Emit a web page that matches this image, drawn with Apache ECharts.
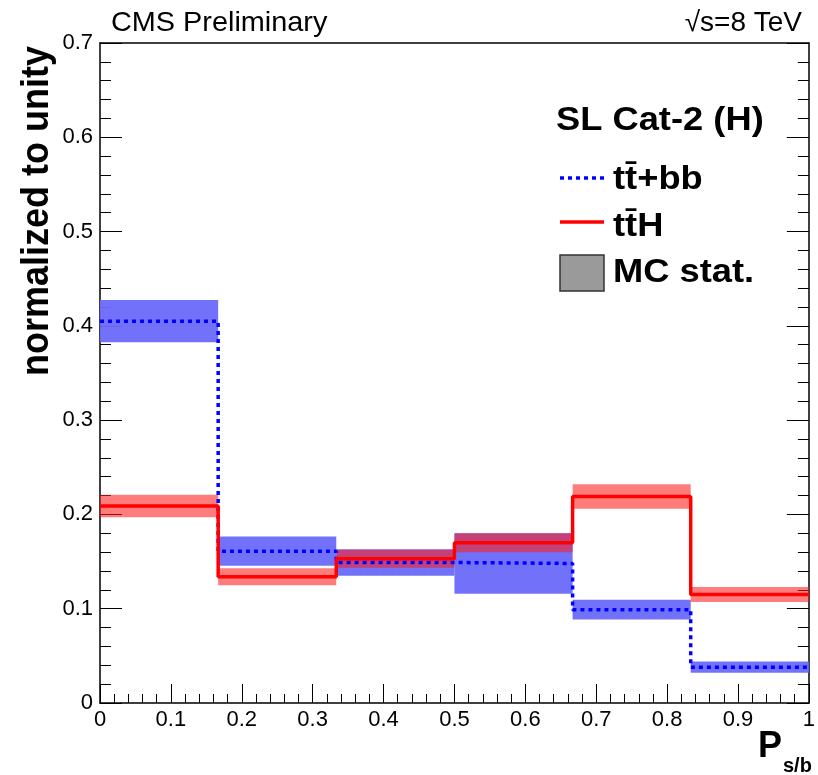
<!DOCTYPE html>
<html>
<head>
<meta charset="utf-8">
<script src="https://cdn.jsdelivr.net/npm/echarts@6/dist/echarts.min.js"></script>
<style>
  html, body { margin: 0; padding: 0; background: #fff; }
  #main { width: 818px; height: 775px; }
</style>
</head>
<body>
<div id="main"></div>
<script>
var myChart = echarts.init(document.getElementById('main'));

// bin edges of P_s/b and the two normalised templates
var binEdges = [0, 0.1667, 0.3333, 0.5, 0.6667, 0.8333, 1];
var ttbb = [0.405, 0.161, 0.149, 0.148, 0.099, 0.038];
var ttbbErr = [0.0225, 0.0155, 0.014, 0.032, 0.0105, 0.006];
var tth = [0.209, 0.134, 0.153, 0.170, 0.219, 0.115];
var tthErr = [0.012, 0.009, 0.0095, 0.010, 0.013, 0.008];

var FONT = 'Liberation Sans';

function stepData(vals) {
  var d = [];
  for (var i = 0; i < vals.length; i++) d.push([binEdges[i], vals[i]]);
  d.push([binEdges[binEdges.length - 1], vals[vals.length - 1]]);
  return d;
}

function bandData(vals, errs) {
  var d = [];
  for (var i = 0; i < vals.length; i++) {
    d.push([binEdges[i], binEdges[i + 1], vals[i] - errs[i], vals[i] + errs[i]]);
  }
  return d;
}

function bandRender(color) {
  return function (params, api) {
    var p1 = api.coord([api.value(0), api.value(3)]);
    var p2 = api.coord([api.value(1), api.value(2)]);
    return {
      type: 'rect',
      shape: { x: p1[0], y: p1[1], width: p2[0] - p1[0], height: p2[1] - p1[1] },
      style: { fill: color }
    };
  };
}

var option = {
  animation: false,
  grid: { left: 100, top: 43, right: 5, bottom: 72 },
  xAxis: [
    {
      type: 'value', min: 0, max: 1, interval: 0.1,
      axisLine: { onZero: false, lineStyle: { color: '#000', width: 1.5 } },
      axisTick: { inside: true, length: 19, lineStyle: { color: '#000' } },
      minorTick: { show: true, splitNumber: 5, length: 9, lineStyle: { color: '#000' } },
      axisLabel: { color: '#000', fontFamily: FONT, fontSize: 22, margin: 6, showMaxLabel: true },
      splitLine: { show: false }
    },
    {
      type: 'value', min: 0, max: 1, position: 'top',
      axisLine: { show: true, onZero: false, lineStyle: { color: '#000', width: 1.5 } },
      axisTick: { show: false }, axisLabel: { show: false }, splitLine: { show: false }
    }
  ],
  yAxis: [
    {
      type: 'value', min: 0, max: 0.7, interval: 0.1,
      axisLine: { show: true, onZero: false, lineStyle: { color: '#000', width: 1.5 } },
      axisTick: { inside: true, length: 22, lineStyle: { color: '#000' } },
      minorTick: { show: true, splitNumber: 5, length: 11, lineStyle: { color: '#000' } },
      axisLabel: { color: '#000', fontFamily: FONT, fontSize: 22, margin: 7 },
      splitLine: { show: false }
    },
    {
      type: 'value', min: 0, max: 0.7, interval: 0.1, position: 'right',
      axisLine: { show: true, onZero: false, lineStyle: { color: '#000', width: 1.5 } },
      axisTick: { inside: true, length: 22, lineStyle: { color: '#000' } },
      minorTick: { show: true, splitNumber: 5, length: 11, lineStyle: { color: '#000' } },
      axisLabel: { show: false },
      splitLine: { show: false }
    }
  ],
  series: [
    {
      name: 'ttbb stat', type: 'custom', renderItem: bandRender('rgba(105,105,250,0.95)'),
      encode: { x: [0, 1], y: [2, 3] }, data: bandData(ttbb, ttbbErr), z: 1
    },
    {
      name: 'tth stat', type: 'custom', renderItem: bandRender('rgba(255,30,30,0.58)'),
      encode: { x: [0, 1], y: [2, 3] }, data: bandData(tth, tthErr), z: 2
    },
    {
      name: 'tt+bb', type: 'line', step: 'end', showSymbol: false, data: stepData(ttbb),
      lineStyle: { color: '#0000ff', width: 3.5, type: [4, 4] }, z: 3
    },
    {
      name: 'ttH', type: 'line', step: 'end', showSymbol: false, data: stepData(tth),
      lineStyle: { color: '#ff0000', width: 3.5 }, z: 4
    }
  ],
  graphic: [
    { type: 'text', x: 111, y: 23, style: { text: 'CMS Preliminary', font: '28px ' + FONT, fill: '#000', verticalAlign: 'middle' }, scaleX: 1.03 },
    { type: 'text', x: 802, y: 23, style: { text: '\u221As=8 TeV', font: '28px ' + FONT, fill: '#000', align: 'right', verticalAlign: 'middle' } },
    {
      type: 'text', x: 37, y: 211, rotation: Math.PI / 2, scaleY: 1.1,
      style: { text: 'normalized to unity', font: 'bold 36px ' + FONT, fill: '#000', align: 'center', verticalAlign: 'middle' }
    },
    { type: 'text', x: 782, y: 747, style: { text: 'P', font: 'bold 36px ' + FONT, fill: '#000', align: 'right', verticalAlign: 'middle' } },
    { type: 'text', x: 783, y: 766, style: { text: 's/b', font: 'bold 20px ' + FONT, fill: '#000', align: 'left', verticalAlign: 'middle' } },
    { type: 'text', x: 556, y: 121, scaleX: 1.1, style: { text: 'SL Cat-2 (H)', font: 'bold 33px ' + FONT, fill: '#000', verticalAlign: 'middle' } },
    { type: 'line', shape: { x1: 560, y1: 178, x2: 604, y2: 178 }, style: { stroke: '#0000ff', lineWidth: 3.5, lineDash: [4, 4] } },
    { type: 'text', x: 613, y: 180, scaleX: 1.1, style: { text: 't' + 't\u0304' + '+bb', font: 'bold 33px ' + FONT, fill: '#000', verticalAlign: 'middle' } },
    { type: 'line', shape: { x1: 560, y1: 222, x2: 604, y2: 222 }, style: { stroke: '#ff0000', lineWidth: 3.5 } },
    { type: 'text', x: 613, y: 227, scaleX: 1.1, style: { text: 't' + 't\u0304' + 'H', font: 'bold 33px ' + FONT, fill: '#000', verticalAlign: 'middle' } },
    { type: 'rect', shape: { x: 560, y: 255, width: 44, height: 36 }, style: { fill: '#9a9a9a', stroke: '#333', lineWidth: 1.5 } },
    { type: 'text', x: 613, y: 273, scaleX: 1.1, style: { text: 'MC stat.', font: 'bold 33px ' + FONT, fill: '#000', verticalAlign: 'middle' } }
  ]
};

myChart.setOption(option);
</script>
</body>
</html>
